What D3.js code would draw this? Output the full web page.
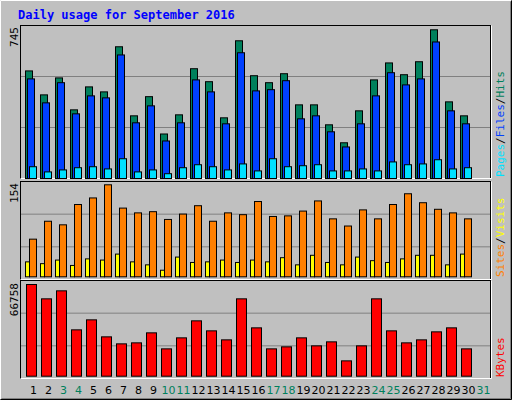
<!DOCTYPE html>
<html><head><meta charset="utf-8">
<script src="https://cdn.jsdelivr.net/npm/d3@7"></script>
<style>body{margin:0;background:#fff}</style></head>
<body><svg id="c" width="512" height="400"></svg>
<script>
const days = d3.range(1,32);
const weekend = [3,4,10,11,17,18,24,25,31];
const hits  = [539,419,504,344,459,434,660,314,410,223,319,550,485,304,690,515,480,525,369,369,269,179,339,494,579,520,585,745,384,314];
const files = [499,379,480,324,414,404,619,279,364,188,279,494,434,274,630,439,445,490,299,314,234,158,274,414,530,469,499,684,339,274];
const pages = [59,33,43,54,59,48,99,33,43,24,54,69,59,43,73,38,99,59,64,69,38,38,48,38,83,69,73,94,48,54];
const visits= [63,93,87,121,132,154,115,107,109,96,105,119,93,107,104,126,101,102,110,127,97,85,112,97,121,139,124,113,107,97];
const sites = [25,22,28,19,30,28,38,25,20,11,33,24,25,28,24,28,25,32,20,36,24,20,33,27,24,30,36,36,20,38];
const kbytes= [66758,56320,62146,33743,41025,28645,23547,24276,31559,19906,27917,40297,33014,26460,56320,35200,19906,21362,27917,22091,25003,11167,22091,56320,33014,24276,26460,32287,35200,19906];

const svg = d3.select('#c');
svg.append('rect').attr('width',512).attr('height',400).attr('fill','#c0c0c0');
svg.append('path').attr('d','M511.5,0.5V399.5H0.5').attr('stroke','#000').attr('fill','none');
svg.append('path').attr('d','M510.5,1.5V398.5H1.5').attr('stroke','#808080').attr('fill','none');
svg.append('path').attr('d','M0.5,399V0.5H511').attr('stroke','#fff').attr('fill','none');

svg.append('text').attr('x',18).attr('y',19).attr('fill','#0000ff')
  .attr('font-family','DejaVu Sans Mono').attr('font-weight','bold').attr('font-size',12)
  .text('Daily usage for September 2016');

const x = d3.scaleBand().domain(days).range([25,490]);
const panels = [[25,178],[181,279],[280,378]];
panels.forEach(([t,b])=>{
  svg.append('rect').attr('x',20.5).attr('y',t+0.5).attr('width',470).attr('height',b-t).attr('fill','#c0c0c0').attr('stroke','#000');
  svg.append('path').attr('d',`M20.5,${b+0.5}H491.5V${t+0.5}`).attr('stroke','#fff').attr('fill','none');
  const h=b-t;
  [1/3,2/3].forEach(f=>svg.append('line').attr('x1',21).attr('x2',490).attr('y1',t+0.5+h*f).attr('y2',t+0.5+h*f).attr('stroke','#808080'));
});

const y1 = d3.scaleLinear().domain([0,745]).range([178,29.3]);
const y2 = d3.scaleLinear().domain([0,154]).range([276.3,184.3]);
const y3 = d3.scaleLinear().domain([0,66758]).range([375.7,284]);

function bars(data,y,dx,w,col){
  svg.append('g').selectAll('rect').data(data).join('rect')
    .attr('x',(d,i)=>x(i+1)+dx+0.5).attr('y',d=>y(d)+0.5)
    .attr('width',w).attr('height',d=>y.range()[0]-y(d))
    .attr('fill',col).attr('stroke','#000');
}
bars(hits,y1,0,7,'#00805c');
bars(files,y1,2,7,'#0040ff');
bars(pages,y1,4,7,'#00e0ff');
bars(sites,y2,0,4,'#ffff00');
bars(visits,y2,4,7,'#ff8000');
bars(kbytes,y3,1,10,'#ff0000');

function vlab(xx,yy,txt){
  svg.append('text').attr('transform',`translate(${xx},${yy}) rotate(-90)`).attr('text-anchor','end')
   .attr('font-family','DejaVu Sans Mono').attr('font-size',11).attr('fill','#000').text(txt);
}
vlab(18,27,'745'); vlab(18,183,'154'); vlab(18,283,'66758');

function rlab(yy,parts){
  const t=svg.append('text').attr('transform',`translate(504,${yy}) rotate(-90)`)
   .attr('font-family','DejaVu Sans Mono').attr('font-size',11);
  parts.forEach(([s,c])=>t.append('tspan').attr('fill',c).text(s));
}
rlab(177,[['Pages','#00e0ff'],['/','#000'],['Files','#0040ff'],['/','#000'],['Hits','#00805c']]);
rlab(277,[['Sites','#ff8000'],['/','#000'],['Visits','#ffff00']]);
rlab(377,[['KBytes','#ff0000']]);

svg.append('g').selectAll('text').data(days).join('text')
  .attr('x',d=>x(d)+8.5).attr('y',394).attr('text-anchor','middle')
  .attr('font-family','DejaVu Sans').attr('font-size',11)
  .attr('fill',d=>weekend.includes(d)?'#00805c':'#000').text(d=>d);
</script></body></html>
